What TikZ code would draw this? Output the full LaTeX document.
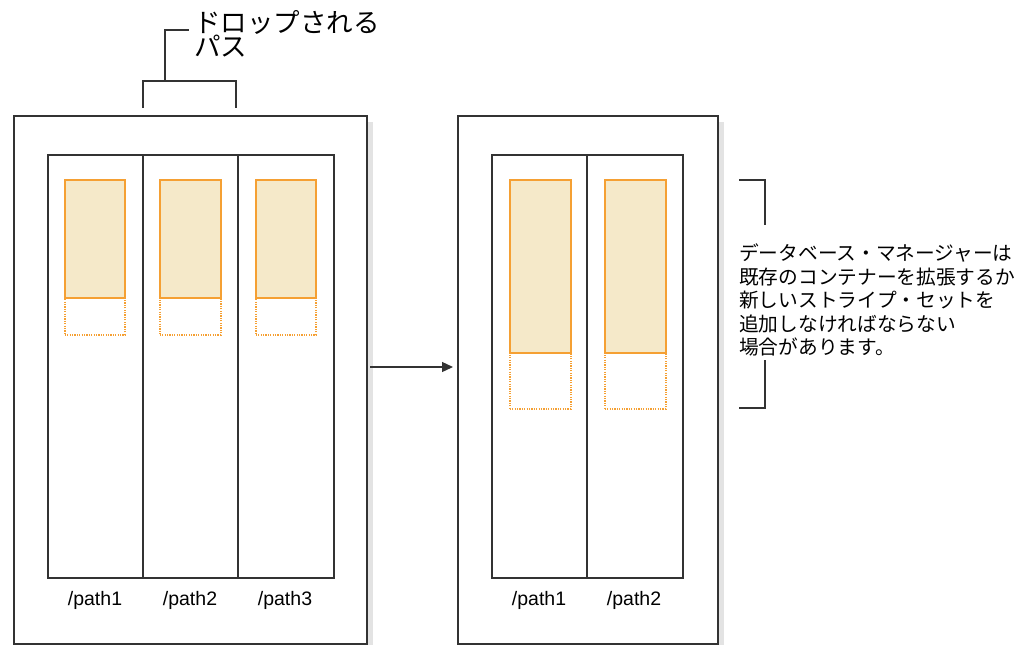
\documentclass[tikz,border=0pt]{standalone}
\usepackage{fontspec}
\setmainfont{Liberation Sans}
\newfontfamily\jp{Noto Sans CJK JP}
\usetikzlibrary{arrows.meta}
\definecolor{linec}{HTML}{333333}
\definecolor{orangec}{HTML}{F5A033}
\definecolor{fillc}{HTML}{F5E9C9}
\definecolor{shadowc}{HTML}{E3E3E3}
\begin{document}
\begin{tikzpicture}[x=1pt,y=-1pt,
  outerbox/.style={draw=linec, line width=1.5pt, fill=white, inner sep=0pt, anchor=north west},
  innerbox/.style={draw=linec, line width=1.8pt, inner sep=0pt, anchor=north west},
  usedbox/.style={draw=orangec, line width=1.5pt, fill=fillc, inner sep=0pt, anchor=north west},
  freebox/.style={draw=orangec, line width=1.5pt, dash pattern=on 1.2pt off 1.2pt, inner sep=0pt, anchor=north west},
  lbl/.style={font=\fontsize{19.5}{22}\selectfont, inner sep=0pt},
  bracket/.style={draw=linec, line width=1.3pt},
  shadow/.style={fill=shadowc}
]
\useasboundingbox (0,0) rectangle (1026,645);
% shadows
\fill[shadow] (367,122) rectangle (373,645);
\fill[shadow] (718,122) rectangle (724,645);
% outer boxes
\node[outerbox, minimum width=353pt, minimum height=528pt] (L) at (13,115) {};
\node[outerbox, minimum width=260pt, minimum height=528pt] (R) at (457,115) {};
% left inner columns
\node[innerbox, minimum width=95pt, minimum height=423pt] (l1) at (47,154) {};
\node[innerbox, minimum width=95pt, minimum height=423pt] (l2) at (142,154) {};
\node[innerbox, minimum width=96pt, minimum height=423pt] (l3) at (237,154) {};
% left containers
\node[usedbox, minimum width=60pt, minimum height=118pt] (u1) at (64,179) {};
\node[usedbox, minimum width=61pt, minimum height=118pt] (u2) at (159,179) {};
\node[usedbox, minimum width=60pt, minimum height=118pt] (u3) at (255,179) {};
\node[freebox, minimum width=60pt, minimum height=37pt] (f1) at (64,297) {};
\node[freebox, minimum width=61pt, minimum height=37pt] (f2) at (159,297) {};
\node[freebox, minimum width=60pt, minimum height=37pt] (f3) at (255,297) {};
% right inner columns
\node[innerbox, minimum width=95pt, minimum height=423pt] (r1) at (491,154) {};
\node[innerbox, minimum width=96pt, minimum height=423pt] (r2) at (586,154) {};
% right containers
\node[usedbox, minimum width=61pt, minimum height=173pt] (v1) at (509,179) {};
\node[usedbox, minimum width=61pt, minimum height=173pt] (v2) at (604,179) {};
\node[freebox, minimum width=61pt, minimum height=56pt] (g1) at (509,352) {};
\node[freebox, minimum width=61pt, minimum height=56pt] (g2) at (604,352) {};
% path labels
\node[lbl] (p1) at (95,600) {/path1};
\node[lbl] (p2) at (190,600) {/path2};
\node[lbl] (p3) at (285,600) {/path3};
\node[lbl] (q1) at (539,600) {/path1};
\node[lbl] (q2) at (634,600) {/path2};
% arrow
\coordinate (a1) at (370,367);
\coordinate (a2) at (453,367);
\draw[linec, line width=1.3pt, -{Triangle[length=11pt,width=10pt]}] (a1) -- (a2);
% top bracket and label
\node[anchor=north west, align=left, inner sep=0pt, font=\jp\fontsize{26.5}{23}\selectfont] (drop) at (194,10) {ドロップされる\\パス};
\coordinate (b1) at (143,108);
\coordinate (b2) at (236,108);
\coordinate (b3) at (165,30);
\coordinate (b4) at (189,30);
\draw[bracket] (b1) -- (143,81) -- (236,81) -- (b2);
\draw[bracket] (165,81) -- (b3) -- (b4);
% right note
\node[anchor=west, align=left, inner sep=0pt, font=\jp\fontsize{19.7}{23.5}\selectfont] (note) at (739,300)
  {データベース・マネージャーは\\既存のコンテナーを拡張するか\\新しいストライプ・セットを\\追加しなければならない\\場合があります。};
\coordinate (c1) at (739,180);
\coordinate (c2) at (765,225);
\coordinate (c3) at (765,360);
\coordinate (c4) at (739,408);
\draw[bracket] (c1) -- (765,180) -- (c2);
\draw[bracket] (c3) -- (765,408) -- (c4);
\end{tikzpicture}
\end{document}
